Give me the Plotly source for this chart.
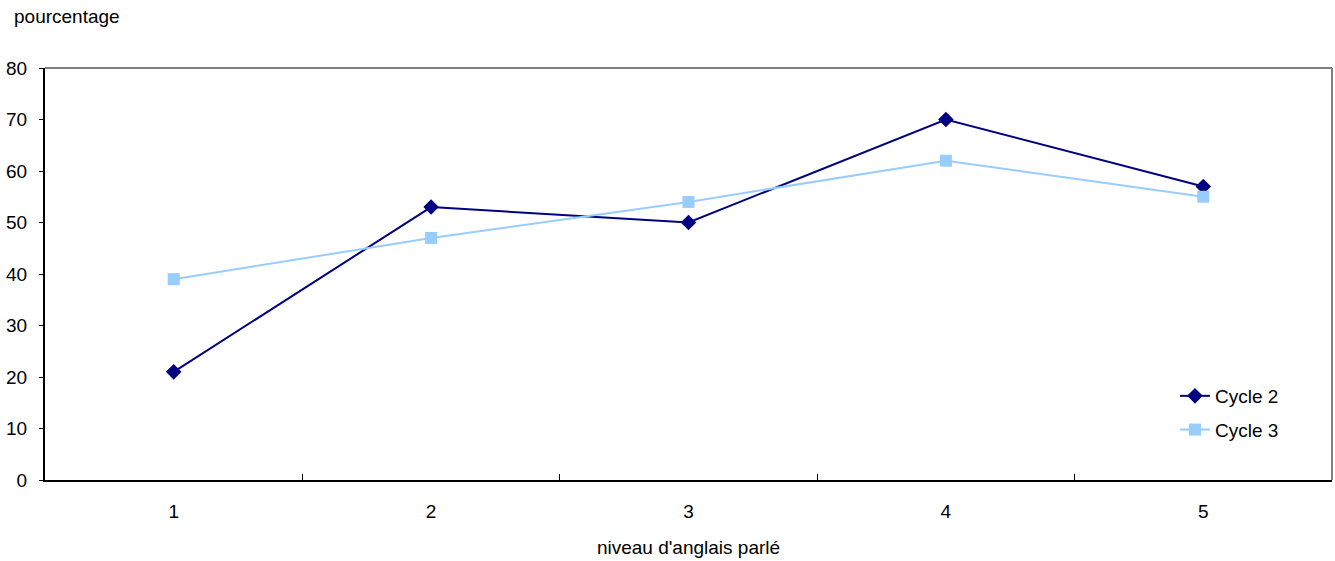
import plotly.graph_objects as go

categories = ["1", "2", "3", "4", "5"]
cycle2 = [21, 53, 50, 70, 57]
cycle3 = [39, 47, 54, 62, 55]
y_ticks = [0, 10, 20, 30, 40, 50, 60, 70, 80]

font = "Liberation Sans, Arial, sans-serif"

fig = go.Figure()
fig.add_trace(go.Scatter(x=categories, y=cycle2, name="Cycle 2", mode="lines+markers",
                         line=dict(color="#000080", width=2),
                         marker=dict(symbol="diamond", size=12, color="#000080"),
                         legendgroup="a"))
fig.add_trace(go.Scatter(x=categories, y=cycle3, name="Cycle 3", mode="lines+markers",
                         line=dict(color="#99CCFF", width=2),
                         marker=dict(symbol="square", size=12, color="#99CCFF"),
                         legendgroup="b"))

fig.update_layout(
    width=1335, height=561,
    margin=dict(l=45, r=3, t=68, b=81),
    paper_bgcolor="white", plot_bgcolor="white",
    font=dict(family=font, size=19, color="black"),
    showlegend=True,
    legend=dict(x=0.878, y=0.25, xanchor="left", yanchor="top",
                bgcolor="rgba(0,0,0,0)", traceorder="grouped", tracegroupgap=6,
                font=dict(size=19)),
    xaxis=dict(type="category", showgrid=False, showline=True, linecolor="black", linewidth=2,
               ticks="inside", tickson="boundaries", ticklen=6, tickcolor="black", tickwidth=1,
               range=[-0.5, 4.5], ticklabelstandoff=13,
               title=dict(text="niveau d'anglais parlé", standoff=20, font=dict(size=19)),
               tickfont=dict(size=19)),
    yaxis=dict(range=[0, 80], tickvals=y_ticks, showgrid=False, showline=True,
               linecolor="black", linewidth=2, ticks="outside", ticklen=4, tickcolor="black",
               tickfont=dict(size=19), zeroline=False, ticklabelstandoff=8),
    annotations=[dict(text="pourcentage", xref="paper", yref="paper", x=-0.026, y=1.125,
                      xanchor="left", yanchor="middle", showarrow=False, font=dict(size=19))],
    shapes=[
        dict(type="line", xref="paper", yref="paper", x0=0, x1=1, y0=1, y1=1,
             line=dict(color="#808080", width=2)),
        dict(type="line", xref="paper", yref="paper", x0=1, x1=1, y0=0, y1=1,
             line=dict(color="#808080", width=2)),
    ],
)

fig.write_html("out.html")
